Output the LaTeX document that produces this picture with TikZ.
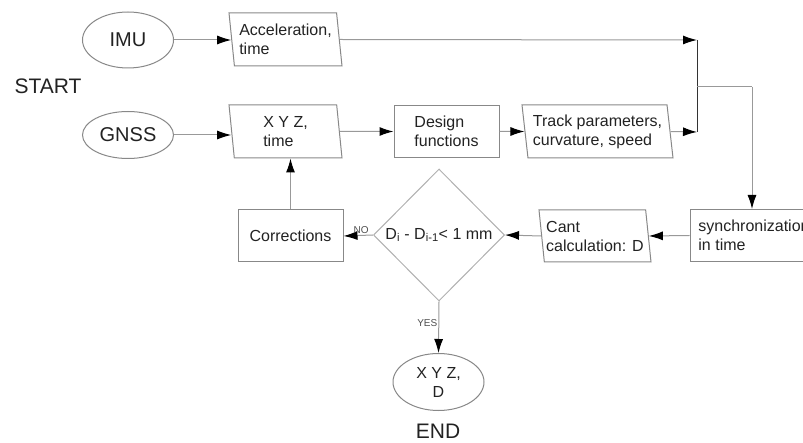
\documentclass[tikz,border=0pt]{standalone}
\usepackage{fontspec}
\setmainfont{Liberation Sans}
\usetikzlibrary{shapes.geometric,arrows.meta}
\definecolor{edgegray}{HTML}{888888}
\definecolor{linegray}{HTML}{999999}
\definecolor{diagray}{HTML}{B0B0B0}
\definecolor{txt}{HTML}{222222}
\tikzset{
  boxtext/.style={font=\fontsize{16}{19}\selectfont, text=txt, align=left, inner sep=0pt},
  termnode/.style={draw=edgegray, line width=1pt, ellipse, inner sep=0pt, font=\fontsize{20}{22}\selectfont, text=txt},
  databox/.style={boxtext, draw=edgegray, line width=1pt, trapezium, trapezium left angle=100, trapezium right angle=80,
    trapezium stretches body, minimum height=53pt},
  procbox/.style={boxtext, draw=edgegray, line width=1pt, rectangle, minimum height=52pt},
  decision/.style={draw=diagray, line width=1pt, diamond, minimum width=131pt, minimum height=132pt, inner sep=0pt,
    font=\fontsize{16}{19}\selectfont, text=txt},
  flow/.style={draw=linegray, line width=1pt, -{Latex[length=14pt,width=9pt,color=black]}},
  plain/.style={draw=linegray, line width=1pt},
  junction/.style={draw=black!80, line width=1pt},
  smalllab/.style={font=\fontsize{10}{11}\selectfont, text=txt!80, inner sep=1pt},
  biglab/.style={font=\fontsize{21}{23}\selectfont, text=txt, inner sep=1pt}
}
\begin{document}
\begin{tikzpicture}[x=1pt,y=-1pt]
\useasboundingbox (0,0) rectangle (803,443);
% start nodes
\node[termnode, minimum width=91pt, minimum height=56pt] (imu) at (128,40) {IMU};
\node[termnode, minimum width=91pt, minimum height=47pt] (gnss) at (128,135) {GNSS};
\node[biglab] (start) at (48,86) {START};
% data boxes
\node[databox, minimum width=113pt] (acc) at (285.5,39.5) {Acceleration,\\time};
\node[databox, minimum width=113pt] (xyz) at (285.5,131.5) {X Y Z,\\time};
\node[procbox, minimum width=105pt] (design) at (446.5,131.5) {Design\\functions};
\node[databox, minimum width=151pt] (track) at (597.5,131.5) {Track parameters,\\curvature, speed};
% right column
\node[procbox, minimum width=128pt] (sync) at (754,235.5) {synchronization\\in time};
\node[databox, minimum width=112pt, minimum height=52pt] (cant) at (595,236) {Cant\\calculation: D};
\node[decision] (dec) at (439,235) {D\textsubscript{i} - D\textsubscript{i-1}< 1 mm};
\node[procbox, minimum width=105pt, align=center] (corr) at (290.5,236) {Corrections};
% end
\node[termnode, minimum width=91pt, minimum height=57pt, font=\fontsize{16}{19}\selectfont, align=center] (endn) at (438.5,382) {X Y Z,\\D};
\node[biglab] (endlab) at (438,431) {END};
% junction coordinates
\coordinate (j1) at (697,40);
\coordinate (j2) at (697,132);
\coordinate (j3) at (697,87);
\coordinate (j4) at (752,87);
% connectors
\draw[flow] (imu.east) -- (acc.west |- imu.east);
\draw[flow] (gnss.east) -- (xyz.west |- gnss.east);
\draw[flow] (xyz.east) -- (design.west);
\draw[flow] (design.east) -- (track.west);
\draw[flow] (acc.east) -- (j1);
\draw[flow] (track.east) -- (j2);
\draw[junction] (j1) -- (j2);
\draw[plain] (j3) -- (j4);
\draw[flow] (j4) -- (j4 |- sync.north);
\draw[flow] (sync.west) -- (cant.east);
\draw[flow] (cant.west) -- (dec.east);
\draw[flow] (dec.west) -- node[smalllab, above, pos=0.4] {NO} (corr.east);
\draw[flow] (corr.north) -- (xyz.south -| corr.north);
\draw[flow] (dec.south) -- node[smalllab, left, pos=0.42] {YES} (endn.north);
\end{tikzpicture}
\end{document}
